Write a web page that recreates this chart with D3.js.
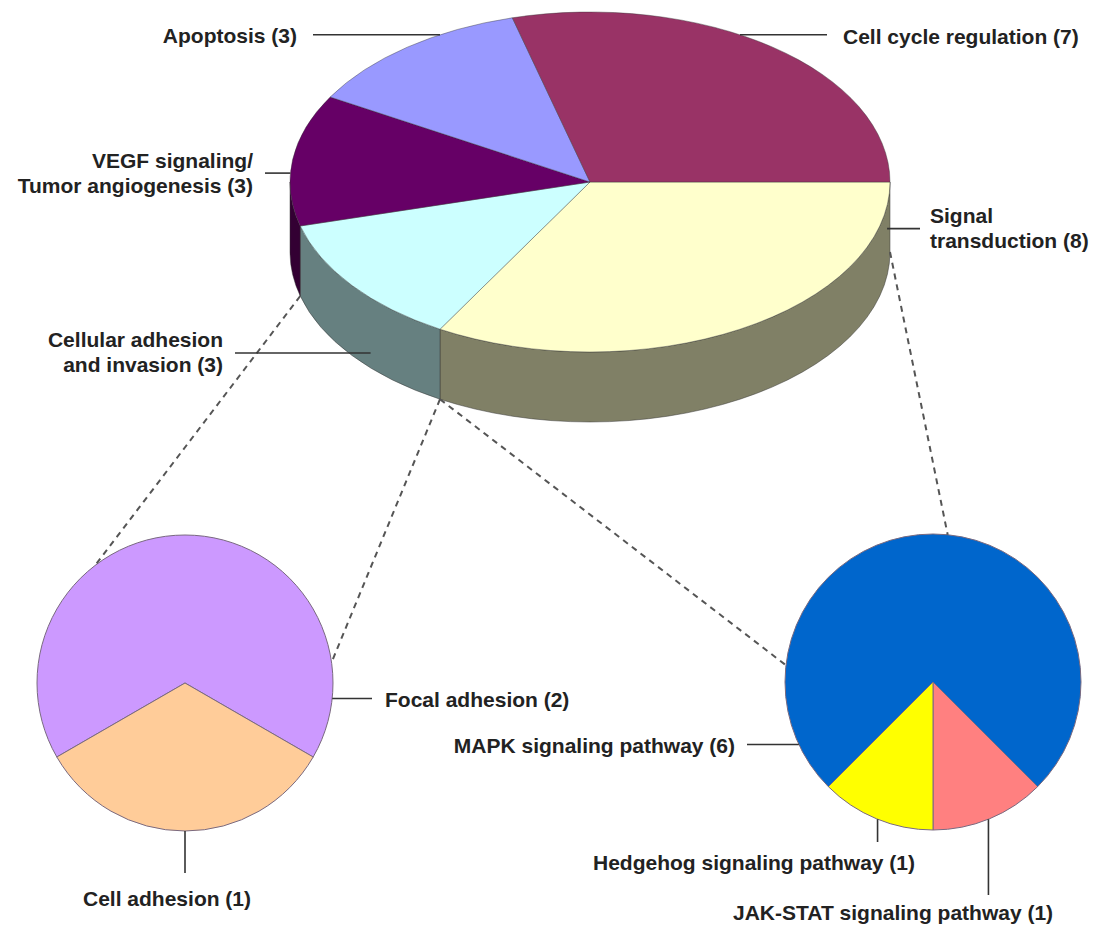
<!DOCTYPE html>
<head>
	<meta charset="utf-8" />
	<style>
		body {
			margin: 0;
			background: #fff;
		}
		text {
			font: bold 21px 'Liberation Sans', Arial, sans-serif;
			fill: #222;
		}
		.leader {
			stroke: #333;
			stroke-width: 1.6;
			fill: none;
		}
		.connector {
			stroke: #555;
			stroke-width: 2;
			stroke-dasharray: 6 5;
			fill: none;
		}
	</style>
</head>

<body>
	<svg id="chart" width="1100" height="935"></svg>

	<script src="https://cdnjs.cloudflare.com/ajax/libs/d3/7.8.5/d3.min.js"></script>
	<script>
		// main pie: pathway groups (number of genes)
		var mainNames = [
			['Signal', 'transduction'],
			['Cellular adhesion', 'and invasion'],
			['VEGF signaling/', 'Tumor angiogenesis'],
			['Apoptosis'],
			['Cell cycle regulation'],
		];
		var mainCounts = [8, 3, 3, 3, 7];
		var mainColors = ['#ffffcc', '#ccffff', '#660066', '#9999ff', '#993366'];

		// breakdown of "Cellular adhesion and invasion"
		var adhesionNames = ['Focal adhesion', 'Cell adhesion'];
		var adhesionCounts = [2, 1];
		var adhesionColors = ['#cc99ff', '#ffcc99'];

		// breakdown of "Signal transduction"
		var signalNames = ['JAK-STAT signaling pathway', 'Hedgehog signaling pathway', 'MAPK signaling pathway'];
		var signalCounts = [1, 1, 6];
		var signalColors = ['#ff8080', '#ffff00', '#0066cc'];

		var svg = d3.select('#chart');
		var rad = Math.PI / 180;

		// ---- 3d pie geometry
		var cx = 590, cy = 182, rx = 300, ry = 170, depth = 70;
		var pt = (a, dy) => [cx + rx * Math.sin(a), cy - ry * Math.cos(a) + (dy || 0)];

		var mainPie = d3.pie().sort(null).startAngle(90 * rad).endAngle(450 * rad);
		var mainArcs = mainPie(mainCounts);

		function topPath(d) {
			var p0 = pt(d.startAngle), p1 = pt(d.endAngle);
			var large = d.endAngle - d.startAngle > Math.PI ? 1 : 0;
			return `M${cx},${cy}L${p0}A${rx},${ry} 0 ${large} 1 ${p1}Z`;
		}

		function wallPath(a0, a1) {
			var t0 = pt(a0), t1 = pt(a1), b0 = pt(a0, depth), b1 = pt(a1, depth);
			return `M${t0}A${rx},${ry} 0 0 1 ${t1}L${b1}A${rx},${ry} 0 0 0 ${b0}Z`;
		}

		// only the front half of the wall is visible
		var walls = svg.append('g');
		mainArcs.forEach((d, i) => {
			var a0 = Math.max(d.startAngle, 90 * rad);
			var a1 = Math.min(d.endAngle, 270 * rad);
			if (a1 <= a0) return;
			walls.append('path')
				.attr('d', wallPath(a0, a1))
				.attr('fill', d3.rgb(mainColors[i]).darker(1.94))
				.attr('stroke', '#333')
				.attr('stroke-opacity', 0.6)
				.attr('stroke-width', 0.8);
		});

		svg.append('g')
			.selectAll('path')
			.data(mainArcs)
			.join('path')
			.attr('d', topPath)
			.attr('fill', (d, i) => mainColors[i])
			.attr('stroke', '#333')
			.attr('stroke-opacity', 0.5)
			.attr('stroke-width', 0.8);

		// ---- two flat pies
		var r = 148;
		var arc = d3.arc().innerRadius(0).outerRadius(r);
		var left = { x: 185, y: 683 };
		var right = { x: 933, y: 682 };
		var onCircle = (c, deg) => [c.x + r * Math.sin(deg * rad), c.y - r * Math.cos(deg * rad)];

		var adhesionArcs = d3.pie().sort(null).startAngle(240 * rad).endAngle(600 * rad)(adhesionCounts);
		var signalArcs = d3.pie().sort(null).startAngle(135 * rad).endAngle(495 * rad)(signalCounts);

		function flatPie(c, arcs, colors) {
			svg.append('g')
				.attr('transform', `translate(${c.x},${c.y})`)
				.selectAll('path')
				.data(arcs)
				.join('path')
				.attr('d', arc)
				.attr('fill', (d, i) => colors[i])
				.attr('stroke', '#7a6a80')
				.attr('stroke-width', 1);
		}
		flatPie(left, adhesionArcs, adhesionColors);
		flatPie(right, signalArcs, signalColors);

		// ---- dashed connectors from the 3d slices to their breakdowns
		var cell = mainArcs[1], sig = mainArcs[0];
		var connectors = [
			[pt(cell.endAngle, depth), onCircle(left, 322.5)],
			[pt(cell.startAngle, depth), onCircle(left, 82)],
			[pt(sig.startAngle, depth), onCircle(right, 5.7)],
			[pt(sig.endAngle, depth), onCircle(right, 276.5)],
		];
		svg.append('g')
			.selectAll('line')
			.data(connectors)
			.join('line')
			.attr('class', 'connector')
			.attr('x1', d => d[0][0])
			.attr('y1', d => d[0][1])
			.attr('x2', d => d[1][0])
			.attr('y2', d => d[1][1]);

		// ---- labels
		var lab = svg.append('g');

		function label(lines, x, y, anchor) {
			var t = lab.append('text').attr('text-anchor', anchor);
			lines.forEach((s, k) => {
				t.append('tspan').attr('x', x).attr('y', y + k * 25).text(s);
			});
		}

		function leader(p, q) {
			lab.append('line').attr('class', 'leader')
				.attr('x1', p[0]).attr('y1', p[1])
				.attr('x2', q[0]).attr('y2', q[1]);
		}

		// main pie: anchor angle (deg from north), drop down the wall, leader end, text x/anchor/y
		var mainLayout = [
			{ a: 98, dy: 23, lx: 920, tx: 930, anchor: 'start', ty: 223 },
			{ a: 227, dy: 55, lx: 235, tx: 223, anchor: 'end', ty: 347 },
			{ a: 273, dy: 0, lx: 265, tx: 253, anchor: 'end', ty: 168 },
			{ a: 330, dy: 0, lx: 313, tx: 297, anchor: 'end', ty: 43 },
			{ a: 30, dy: 0, lx: 827, tx: 843, anchor: 'start', ty: 44 },
		];
		mainNames.forEach((lines, i) => {
			var m = mainLayout[i];
			var p = pt(m.a * rad, m.dy);
			leader(p, [m.lx, p[1]]);
			var txt = lines.slice();
			txt[txt.length - 1] += ' (' + mainCounts[i] + ')';
			label(txt, m.tx, m.ty, m.anchor);
		});

		// small pies: anchor angle, horizontal (h) or vertical leader end
		function smallLabels(c, names, counts, layout) {
			names.forEach((n, i) => {
				var m = layout[i];
				var p = onCircle(c, m.a);
				leader(p, m.h ? [m.end, p[1]] : [p[0], m.end]);
				label([n + ' (' + counts[i] + ')'], m.tx, m.ty, m.anchor);
			});
		}

		smallLabels(left, adhesionNames, adhesionCounts, [
			{ a: 96, h: true, end: 372, tx: 385, ty: 707, anchor: 'start' },
			{ a: 180, h: false, end: 873, tx: 83, ty: 906, anchor: 'start' },
		]);
		smallLabels(right, signalNames, signalCounts, [
			{ a: 158, h: false, end: 895, tx: 733, ty: 920, anchor: 'start' },
			{ a: 202, h: false, end: 842, tx: 593, ty: 870, anchor: 'start' },
			{ a: 245, h: true, end: 747, tx: 735, ty: 753, anchor: 'end' },
		]);
	</script>
</body>
